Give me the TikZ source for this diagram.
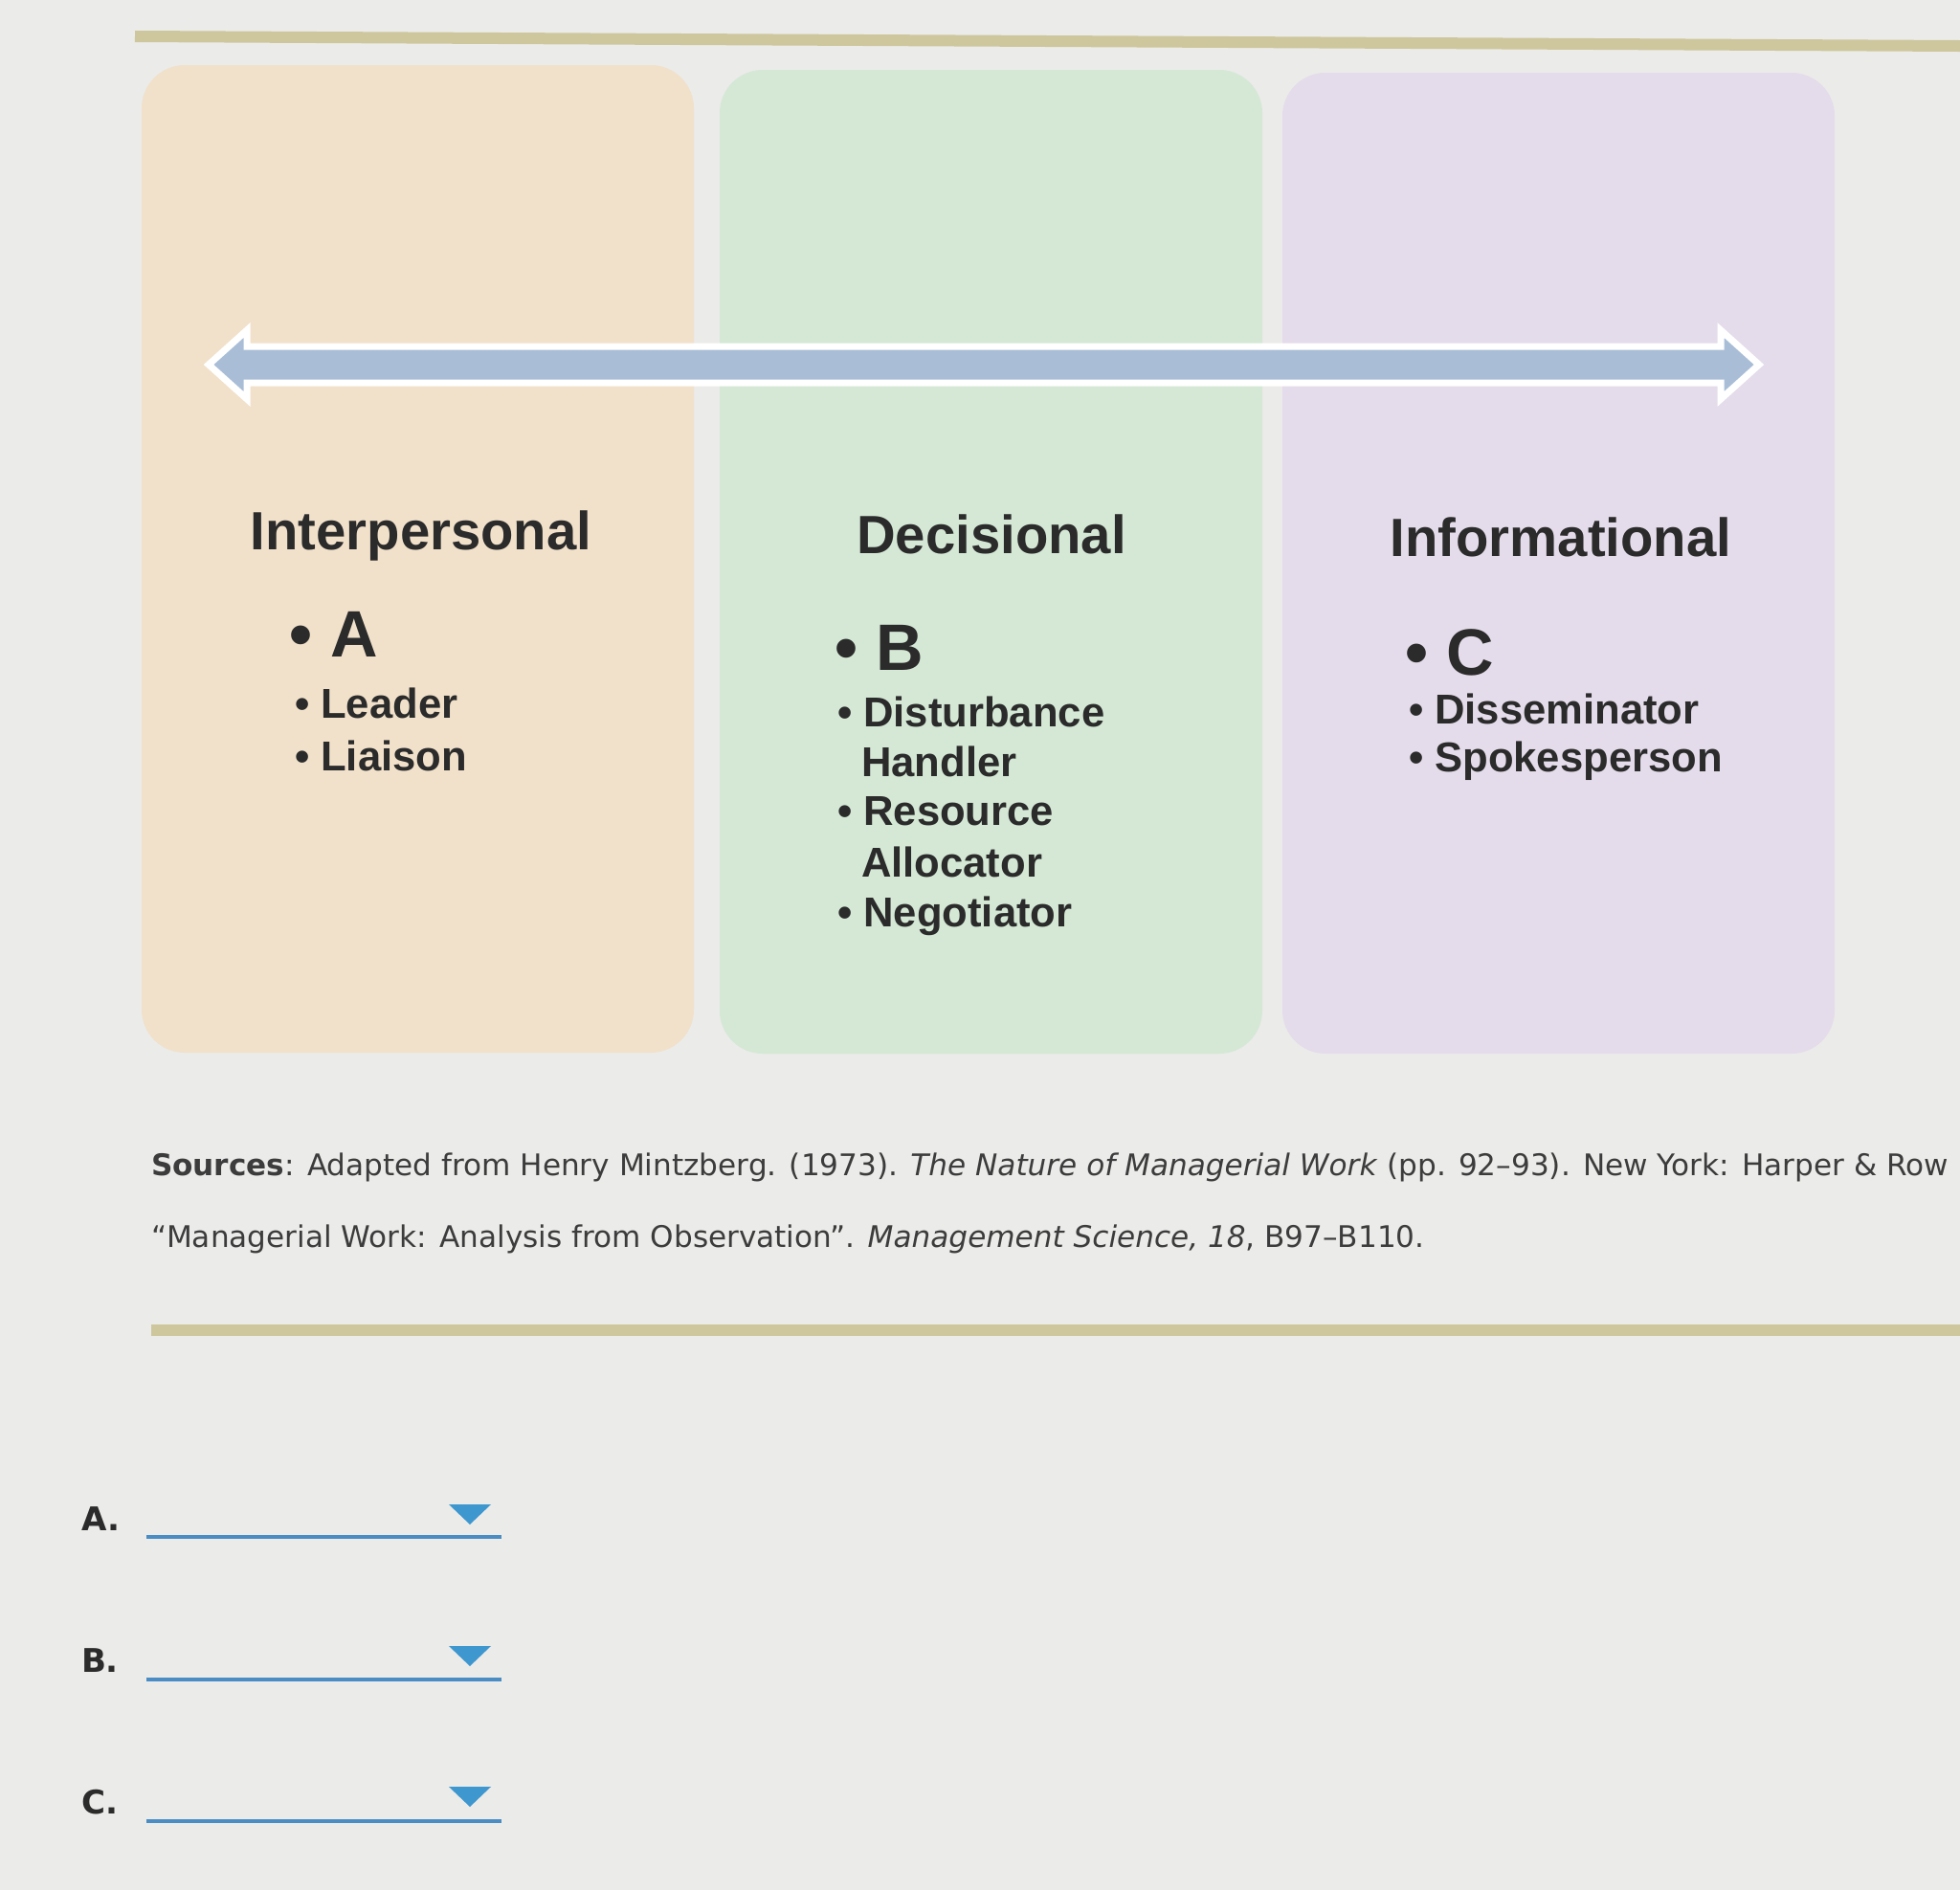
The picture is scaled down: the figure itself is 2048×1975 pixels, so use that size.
\documentclass[tikz,border=0pt]{standalone}
\usepackage{fontspec}
\usepackage{xcolor}
\usepackage{tikz}
\usetikzlibrary{calc}
\setmainfont{Liberation Sans}
\newfontfamily\srcfont{DejaVu Sans}
\definecolor{pagebg}{HTML}{EBEBE9}
\definecolor{olive}{HTML}{CEC79D}
\definecolor{peach}{HTML}{F1E1CA}
\definecolor{mint}{HTML}{D4E8D5}
\definecolor{lilac}{HTML}{E4DCEA}
\definecolor{arrowblue}{HTML}{A9BED6}
\definecolor{inkgray}{HTML}{2B2B2B}
\definecolor{srcgray}{HTML}{3C3C3C}
\definecolor{lineblue}{HTML}{4A8CC4}
\definecolor{tripblue}{HTML}{3F97CF}

\begin{document}
\begin{tikzpicture}[x=0.01cm, y=-0.01cm,
  every node/.style={inner sep=0pt, outer sep=0pt, text=inkgray},
  head/.style={anchor=base, font=\fontsize{16}{19}\selectfont\bfseries},
  letter/.style={anchor=base west, font=\fontsize{19.5}{23}\selectfont\bfseries},
  item/.style={anchor=base west, font=\fontsize{12.4}{15}\selectfont\bfseries},
  src/.style={anchor=base west, text=srcgray, font=\srcfont\fontsize{8.85}{10}\selectfont},
  qlabel/.style={anchor=base west, font=\srcfont\fontsize{9.7}{12}\selectfont\bfseries},
  panel/.style={rounded corners=0.45cm}]
\useasboundingbox (0,0) rectangle (2048,1975);
\fill[pagebg] (0,0) rectangle (2048,1975);

% rules
\draw[olive, line width=0.12cm] (141,38) -- (2048,48);
\draw[olive, line width=0.12cm] (158,1390) -- (2048,1390);

% panels
\fill[peach, panel] (148,68) rectangle (725,1100);
\fill[mint, panel] (752,73) rectangle (1319,1101);
\fill[lilac, panel] (1340,76) rectangle (1917,1101);

% double arrow
\coordinate (arrL) at (218,381);
\coordinate (arrR) at (1838,381);
\filldraw[fill=arrowblue, draw=white, line width=0.07cm, line join=miter]
  (arrL) -- ++(40,-36) -- ++(0,17) -- ($(arrR)+(-40,-19)$) -- ++(0,-17)
  -- (arrR) -- ++(-40,36) -- ++(0,-17) -- ($(arrL)+(40,19)$) -- ++(0,17) -- cycle;

% headings
\node[head] (inter) at (440,574) {Interpersonal};
\node[head] (decis) at (1036,578) {Decisional};
\node[head] (infor) at (1631,581) {Informational};

% interpersonal
\node[letter] (roleA) at (302,686) {• A};
\node[item] (leader) at (308,750) {• Leader};
\node[item] (liaison) at (308,805) {• Liaison};

% decisional
\node[letter] (roleB) at (872,700) {• B};
\node[item] (disturb) at (875,759) {• Disturbance};
\node[item] (handler) at (900,811) {Handler};
\node[item] (resource) at (875,862) {• Resource};
\node[item] (alloc) at (900,916) {Allocator};
\node[item] (negot) at (875,968) {• Negotiator};

% informational
\node[letter] (roleC) at (1468,705) {• C};
\node[item] (dissem) at (1472,756) {• Disseminator};
\node[item] (spokes) at (1472,806) {• Spokesperson};

% sources
\node[src] (srcA) at (158,1228) {\textbf{Sources}: Adapted from Henry Mintzberg. (1973). \textit{The Nature of Managerial Work} (pp. 92–93). New York: Harper \& Row};
\node[src] (srcB) at (158,1303) {“Managerial Work: Analysis from Observation”. \textit{Management Science, 18}, B97–B110.};

% answer blanks
\node[qlabel] (ansA) at (85,1599) {A.};
\node[qlabel] (ansB) at (85,1747) {B.};
\node[qlabel] (ansC) at (85,1895) {C.};
\draw[lineblue, line width=0.045cm] (153,1606) -- (524,1606);
\draw[lineblue, line width=0.045cm] (153,1755) -- (524,1755);
\draw[lineblue, line width=0.045cm] (153,1903) -- (524,1903);
\fill[tripblue] (469,1572) -- (513,1572) -- (491,1593) -- cycle;
\fill[tripblue] (469,1720) -- (513,1720) -- (491,1741) -- cycle;
\fill[tripblue] (469,1867) -- (513,1867) -- (491,1888) -- cycle;
\end{tikzpicture}
\end{document}
